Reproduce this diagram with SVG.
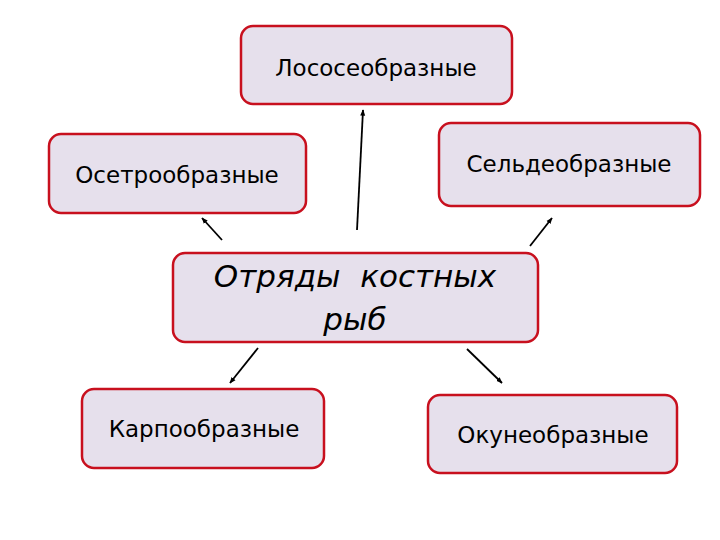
<svg xmlns="http://www.w3.org/2000/svg" width="720" height="540" viewBox="0 0 720 540">
<defs>
<marker id="ah" viewBox="0 0 10 10" refX="9" refY="5" markerWidth="3.5" markerHeight="3.5" orient="auto-start-reverse">
<path d="M0,1 L10,5 L0,9 z" fill="#000"/>
</marker>
</defs>
<style>
.box{fill:#e6e0ec;stroke:#c8101e;stroke-width:2.5}
.t{font-family:"DejaVu Sans",Verdana,sans-serif;font-size:23px;fill:#000;text-anchor:middle}
.c{font-family:"DejaVu Sans",Verdana,sans-serif;font-size:31px;font-style:italic;fill:#000;text-anchor:middle;white-space:pre}
.ln{stroke:#000;stroke-width:1.8;fill:none;marker-end:url(#ah)}
</style>
<rect width="720" height="540" fill="#fff"/>
<g id="connectors">
<line class="ln" x1="357" y1="230" x2="363" y2="110"/>
<line class="ln" x1="222" y1="240" x2="202" y2="218"/>
<line class="ln" x1="530" y1="246" x2="552" y2="218"/>
<line class="ln" x1="258" y1="348" x2="230" y2="383"/>
<line class="ln" x1="467" y1="349" x2="502" y2="383"/>
</g>
<g id="top">
<rect class="box" x="241" y="26" width="271" height="78" rx="12"/>
<text class="t" x="376" y="76">Лососеобразные</text>
</g>
<g id="left">
<rect class="box" x="49" y="134" width="257" height="79" rx="12"/>
<text class="t" x="177" y="183">Осетрообразные</text>
</g>
<g id="right">
<rect class="box" x="439" y="123" width="261" height="83" rx="12"/>
<text class="t" x="569" y="172">Сельдеобразные</text>
</g>
<g id="center">
<rect class="box" x="173" y="253" width="365" height="89" rx="12"/>
<text class="c" x="355" y="287" xml:space="preserve">Отряды  костных</text>
<text class="c" x="355" y="330">рыб</text>
</g>
<g id="bottomleft">
<rect class="box" x="82" y="389" width="242" height="79" rx="12"/>
<text class="t" x="204" y="437">Карпообразные</text>
</g>
<g id="bottomright">
<rect class="box" x="428" y="395" width="249" height="78" rx="12"/>
<text class="t" x="553" y="443">Окунеобразные</text>
</g>
</svg>
